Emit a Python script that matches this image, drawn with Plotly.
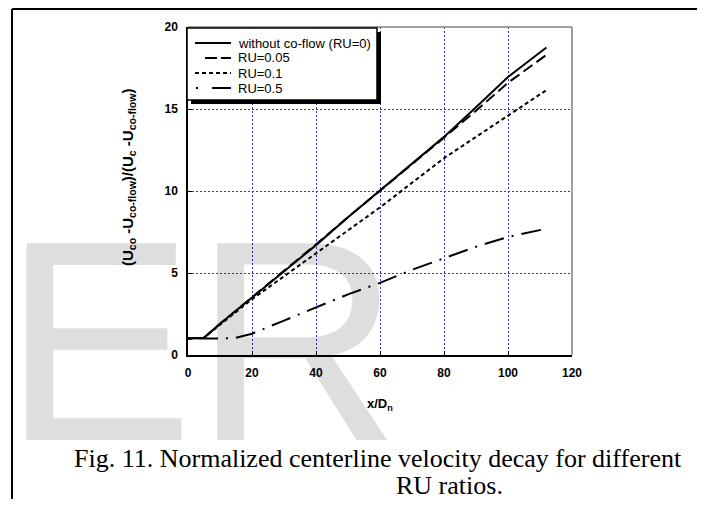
import plotly.graph_objects as go

# ---- data ----
x_vals = [0, 5, 10, 15, 20, 30, 40, 50, 60, 70, 80, 90, 100, 112]
ru_0 = [1, 1.05, 1.9, 2.7, 3.5, 5.1, 6.7, 8.4, 10.05, 11.7, 13.3, 15.1, 16.95, 18.75]
ru_005 = [1, 1.05, 1.9, 2.7, 3.5, 5.1, 6.75, 8.4, 10.0, 11.65, 13.25, 14.9, 16.6, 18.3]
ru_01 = [1, 1.05, 1.85, 2.65, 3.4, 4.8, 6.2, 7.6, 9.0, 10.5, 12.0, 13.3, 14.6, 16.15]
ru_05 = [1, 1, 1, 1.05, 1.3, 2.1, 2.9, 3.7, 4.4, 5.2, 5.9, 6.6, 7.2, 7.7]

series_names = ["without co-flow (RU=0)", "RU=0.05", "RU=0.1", "RU=0.5"]
series_vals = [ru_0, ru_005, ru_01, ru_05]
series_dash = ["solid", "11px,5px", "4px,3px", "2px,8px,20px,8px"]
legend_dash = ["solid", "12px,4px", "4px,3px", "2px,14px,22px"]

x_ticks = [0, 20, 40, 60, 80, 100, 120]
y_ticks = [0, 5, 10, 15, 20]

# ---- geometry: page has an 8px body margin, so the figure is shifted by 8px ----
OFF = 8
W, H = 705 - OFF, 507 - 2 * OFF
L, R, T, B = 188 - OFF, 572 - OFF, 27 - OFF, 355 - OFF


def px(xs):  # screen x -> paper x
    return (xs - OFF - L) / (R - L)


def py(ys):  # screen y -> paper y
    return (B - (ys - OFF)) / (B - T)


fig = go.Figure()
for name, vals, dash in zip(series_names, series_vals, series_dash):
    fig.add_trace(go.Scatter(x=x_vals, y=vals, mode="lines", name=name, showlegend=False,
                             line=dict(color="black", width=2, dash=dash)))

grid_col = "#3030e0"
tick_font = dict(family="Arial, Liberation Sans", size=12, color="black", weight="bold")
fig.update_xaxes(range=[0, 120], tickvals=x_ticks, showgrid=True, gridcolor=grid_col,
                 griddash="2px,2px", gridwidth=1, zeroline=False,
                 showline=True, linecolor="black", linewidth=1.5,
                 ticks="inside", ticklen=4, tickcolor="black", ticklabelstandoff=6,
                 tickfont=tick_font)
fig.update_yaxes(range=[0, 20], tickvals=y_ticks, showgrid=True, gridcolor=grid_col,
                 griddash="2px,2px", gridwidth=1, zeroline=False,
                 showline=True, linecolor="black", linewidth=1.5,
                 ticks="inside", ticklen=4, tickcolor="black", ticklabelstandoff=6,
                 tickfont=tick_font)

shapes = [
    # top/right plot frame (gray)
    dict(type="line", xref="paper", yref="paper", x0=0, x1=1, y0=1, y1=1,
         line=dict(color="#808080", width=1.5)),
    dict(type="line", xref="paper", yref="paper", x0=1, x1=1, y0=0, y1=1,
         line=dict(color="#808080", width=1.5)),
    # outer frame
    dict(type="line", xref="paper", yref="paper", x0=px(12), x1=px(12), y0=py(9), y1=py(530),
         line=dict(color="black", width=2)),
    dict(type="line", xref="paper", yref="paper", x0=px(12), x1=px(702), y0=py(9), y1=py(9),
         line=dict(color="black", width=2)),
    dict(type="line", xref="paper", yref="paper", x0=px(702), x1=px(702), y0=py(9), y1=py(530),
         line=dict(color="black", width=2)),
    # legend shadow and box
    dict(type="rect", xref="paper", yref="paper", x0=px(191), x1=px(381), y0=py(104), y1=py(32),
         fillcolor="black", line=dict(width=0), layer="above"),
    dict(type="rect", xref="paper", yref="paper", x0=px(187), x1=px(377), y0=py(100), y1=py(28),
         fillcolor="white", line=dict(color="black", width=1.5), layer="above"),
]

annotations = [
    # watermark
    dict(text="ER", xref="paper", yref="paper", x=px(1), y=py(179), xanchor="left", yanchor="top",
         showarrow=False, font=dict(family="Liberation Sans, Arial", size=286, color="rgba(0,0,0,0.13)")),
    # y title
    dict(text="(U<sub>co</sub> -U<sub>co-flow</sub>)/(U<sub>c</sub> -U<sub>co-flow</sub>)",
         xref="paper", yref="paper", x=px(128), y=py(178), textangle=-90, showarrow=False,
         xanchor="center", yanchor="middle",
         font=dict(family="Arial, Liberation Sans", size=15, color="black", weight="bold")),
    # x title
    dict(text="x/D<sub>n</sub>", xref="paper", yref="paper", x=px(380), y=py(404), showarrow=False,
         xanchor="center", yanchor="middle",
         font=dict(family="Arial, Liberation Sans", size=13, color="black", weight="bold")),
    # caption
    dict(text="Fig. 11. Normalized centerline velocity decay for different", xref="paper", yref="paper",
         x=px(378), y=py(458), showarrow=False, xanchor="center", yanchor="middle",
         font=dict(family="Liberation Serif", size=26, color="black")),
    dict(text="RU ratios.", xref="paper", yref="paper",
         x=px(449), y=py(485), showarrow=False, xanchor="center", yanchor="middle",
         font=dict(family="Liberation Serif", size=26, color="black")),
]

# legend drawn as a boxed key (text + line samples)
legend_rows = [43, 58, 73, 88]
legend_x0 = [195, 205, 195, 196]
for name, dash, ry, lx0 in zip(series_names, legend_dash, legend_rows, legend_x0):
    shapes.append(dict(type="line", xref="paper", yref="paper", x0=px(lx0), x1=px(231),
                       y0=py(ry), y1=py(ry), layer="above",
                       line=dict(color="black", width=2, dash=dash)))
    annotations.append(dict(text=name, xref="paper", yref="paper", x=px(236), y=py(ry),
                            xanchor="left", yanchor="middle", showarrow=False,
                            font=dict(family="Arial, Liberation Sans", size=13, color="black")))

fig.update_layout(
    width=W, height=H,
    margin=dict(l=L, r=W - R, t=T, b=H - B),
    paper_bgcolor="white", plot_bgcolor="white",
    shapes=shapes, annotations=annotations, showlegend=False,
)

fig.write_html("out.html")
